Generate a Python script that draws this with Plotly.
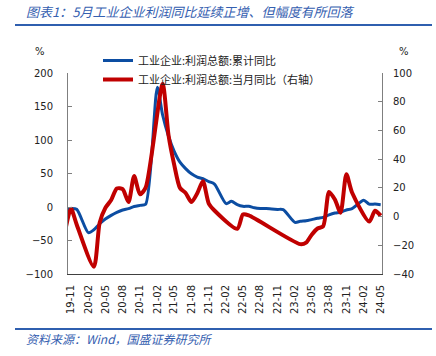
import pandas as pd
import plotly.graph_objects as go

# ---- data ----
months = pd.date_range("2019-10-01", "2024-05-01", freq="MS")

cum_yoy = [  # 工业企业:利润总额:累计同比 (left axis)
    -2.9, -2.1, -3.3,
    None, -38.3, -34.0, -25.0, -18.0, -12.5, -8.0, -4.4, -2.4, 0.7, 2.4, 4.1,
    None, 178.9, 137.3, 106.0, 83.4, 66.9, 57.3, 49.5, 44.7, 42.2, 38.0, 34.3,
    None, 5.0, 8.5, 3.5, 1.0, 1.0, -1.1, -2.1, -2.3, -3.0, -3.6, -4.0,
    None, -22.9, -21.4, -20.6, -18.8, -16.8, -15.5, -11.7, -9.0, -7.8, -4.4, -2.3,
    None, 10.2, 4.3, 4.3, 3.4,
]

mon_yoy = [  # 工业企业:利润总额:当月同比 (right axis)
    -9.9, 5.4, -5.5,
    None, None, -34.9, -4.3, 6.0, 11.5, 19.6, 19.1, 10.1, 28.2, 15.5, 20.1,
    None, None, 92.3, 57.0, 36.4, 20.0, 16.4, 10.1, 16.3, 24.6, 9.0, 4.2,
    None, None, None, -8.5, 1.5, 0.8, None, None, None, None, None, None,
    None, None, -19.2, -18.2, -12.6, -8.3, -6.7, 17.2, 11.9, 2.7, 29.5, 16.8,
    None, None, -3.5, 4.0, 0.7,
]

series_names = ["工业企业:利润总额:累计同比", "工业企业:利润总额:当月同比（右轴）"]
left_ticks = [-100, -50, 0, 50, 100, 150, 200]
right_ticks = [-40, -20, 0, 20, 40, 60, 80, 100]

title_text = "图表1：5月工业企业利润同比延续正增、但幅度有所回落"
source_text = "资料来源：Wind，国盛证券研究所"

# ---- figure ----
W, H = 436, 356
L, R, T, B = 68, 54, 73, 82
PW, PH = W - L - R, H - T - B


def px(x):
    return (x - L) / PW


def py(y):
    return (H - B - y) / PH


CJK = "Noto Sans CJK SC"
NUM = "DejaVu Sans"
BLUE = "#0C4DA2"
RED = "#C00000"
HEAD = "#3560B0"

fig = go.Figure()
fig.add_trace(go.Scatter(
    x=months, y=cum_yoy, name=series_names[0], mode="lines",
    line=dict(color=BLUE, width=3, shape="spline", smoothing=0.7),
    connectgaps=True,
))
fig.add_trace(go.Scatter(
    x=months, y=mon_yoy, name=series_names[1], mode="lines", yaxis="y2",
    line=dict(color=RED, width=4, shape="spline", smoothing=0.7),
    connectgaps=True,
))

fig.update_layout(
    width=W, height=H,
    margin=dict(l=L, r=R, t=T, b=B, autoexpand=False),
    paper_bgcolor="white", plot_bgcolor="white",
    font=dict(family=NUM, size=10, color="#222222"),
    showlegend=True,
    legend=dict(
        x=px(98), y=py(46), xanchor="left", yanchor="top",
        bgcolor="rgba(0,0,0,0)", borderwidth=0,
        font=dict(family=CJK, size=11, color="#222222"),
        tracegroupgap=2, itemwidth=30,
    ),
    xaxis=dict(
        type="date", automargin=False,
        range=["2019-10-16", "2024-05-08"],
        tickmode="linear", tick0="2019-11-01", dtick="M3",
        tickformat="%y-%m", tickangle=-90,
        showgrid=False, zeroline=False,
        showline=True, linecolor="#404040", linewidth=1,
        ticks="", ticklabelstandoff=6,
        tickfont=dict(family=NUM, size=10, color="#222222"),
    ),
    yaxis=dict(
        range=[-100, 200], tickvals=left_ticks, automargin=False,
        showgrid=False, zeroline=False,
        showline=True, linecolor="#7f7f7f", linewidth=1,
        ticks="inside", ticklen=4, tickcolor="#7f7f7f",
        ticklabelstandoff=12,
        tickfont=dict(family=NUM, size=10, color="#222222"),
    ),
    yaxis2=dict(
        range=[-40, 100], tickvals=right_ticks, automargin=False,
        overlaying="y", side="right",
        showgrid=False, zeroline=False,
        showline=True, linecolor="#7f7f7f", linewidth=1,
        ticks="inside", ticklen=4, tickcolor="#7f7f7f",
        ticklabelstandoff=8,
        tickfont=dict(family=NUM, size=10, color="#222222"),
    ),
)

annotations = [
    dict(text=title_text, x=px(24), y=py(12), xanchor="left", yanchor="middle",
         font=dict(family=CJK, size=13, color=HEAD, style="italic")),
    dict(text=source_text, x=px(24), y=py(338), xanchor="left", yanchor="middle",
         font=dict(family=CJK, size=12, color=HEAD, style="italic")),
    dict(text="%", x=px(40), y=py(52), xanchor="center", yanchor="middle",
         font=dict(family=NUM, size=10, color="#222222")),
    dict(text="%", x=px(404), y=py(52), xanchor="center", yanchor="middle",
         font=dict(family=NUM, size=10, color="#222222")),
]
for a in annotations:
    a.update(xref="paper", yref="paper", showarrow=False)
fig.update_layout(annotations=annotations)

fig.add_shape(type="line", xref="paper", yref="paper",
              x0=px(15), x1=px(432), y0=py(25), y1=py(25),
              line=dict(color="#2F5FAF", width=2))
fig.add_shape(type="line", xref="paper", yref="paper",
              x0=px(15), x1=px(432), y0=py(329), y1=py(329),
              line=dict(color="#2F5FAF", width=2))

fig.write_html(
    "out.html",
    config={"displayModeBar": False},
    post_script="document.body.style.margin='0';document.body.style.overflow='hidden';",
)
